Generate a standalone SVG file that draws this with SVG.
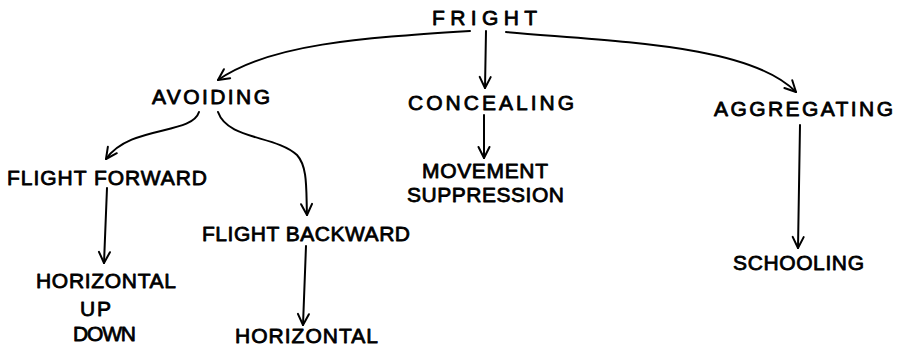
<svg xmlns="http://www.w3.org/2000/svg" width="903" height="347" viewBox="0 0 903 347">
  <style>
    .lbl { font-family: "Liberation Sans", Arial, sans-serif; font-size: 21px; fill: #000; stroke: #000; stroke-width: 0.8; stroke-linejoin: round; }
    .edge { fill: none; stroke: #000; stroke-width: 2; stroke-linecap: round; marker-end: url(#head); }
  </style>
  <defs>
    <marker id="head" markerUnits="userSpaceOnUse" viewBox="-13 -7 15 14" markerWidth="15" markerHeight="14" refX="0" refY="0" orient="auto" overflow="visible">
      <path d="M-11,-5.5 L0,0 L-11,5.5" fill="none" stroke="#000" stroke-width="2" stroke-linecap="round" stroke-linejoin="round"/>
    </marker>
  </defs>
  <rect width="903" height="347" fill="#fff"/>

  <g id="connectors">
    <path class="edge" d="M470,31 C360,38 270,44 218,80"/>
    <path class="edge" d="M486,31 L485,88"/>
    <path class="edge" d="M506,32 C620,42 750,45 796,92"/>
    <path class="edge" d="M199,112 C192,135 130,125 106,159"/>
    <path class="edge" d="M218,112 C228,140 275,135 297,155 C308,167 306,190 307,215"/>
    <path class="edge" d="M107,188 L104,263"/>
    <path class="edge" d="M306,246 L303,325"/>
    <path class="edge" d="M484,115 L484,158"/>
    <path class="edge" d="M800,125 L798,248"/>
  </g>

  <g id="fright"><text class="lbl" x="432" y="25" textLength="105" lengthAdjust="spacing">FRIGHT</text></g>
  <g id="avoiding"><text class="lbl" x="152" y="104" textLength="118" lengthAdjust="spacing">AVOIDING</text></g>
  <g id="concealing"><text class="lbl" x="408" y="110" textLength="166" lengthAdjust="spacing">CONCEALING</text></g>
  <g id="aggregating"><text class="lbl" x="714" y="116" textLength="179" lengthAdjust="spacing">AGGREGATING</text></g>
  <g id="flight-forward"><text class="lbl" x="7" y="185" textLength="200" lengthAdjust="spacing">FLIGHT FORWARD</text></g>
  <g id="movement-suppression">
    <text class="lbl" x="422" y="178" textLength="126" lengthAdjust="spacing">MOVEMENT</text>
    <text class="lbl" x="407" y="202" textLength="157" lengthAdjust="spacing">SUPPRESSION</text>
  </g>
  <g id="flight-backward"><text class="lbl" x="202" y="241" textLength="208" lengthAdjust="spacing">FLIGHT BACKWARD</text></g>
  <g id="schooling"><text class="lbl" x="733" y="270" textLength="131" lengthAdjust="spacing">SCHOOLING</text></g>
  <g id="forward-directions">
    <text class="lbl" x="36" y="288" textLength="140" lengthAdjust="spacing">HORIZONTAL</text>
    <text class="lbl" x="80" y="316" textLength="31" lengthAdjust="spacing">UP</text>
    <text class="lbl" x="73" y="341" textLength="63" lengthAdjust="spacing">DOWN</text>
  </g>
  <g id="backward-direction"><text class="lbl" x="235" y="343" textLength="143" lengthAdjust="spacing">HORIZONTAL</text></g>
</svg>
